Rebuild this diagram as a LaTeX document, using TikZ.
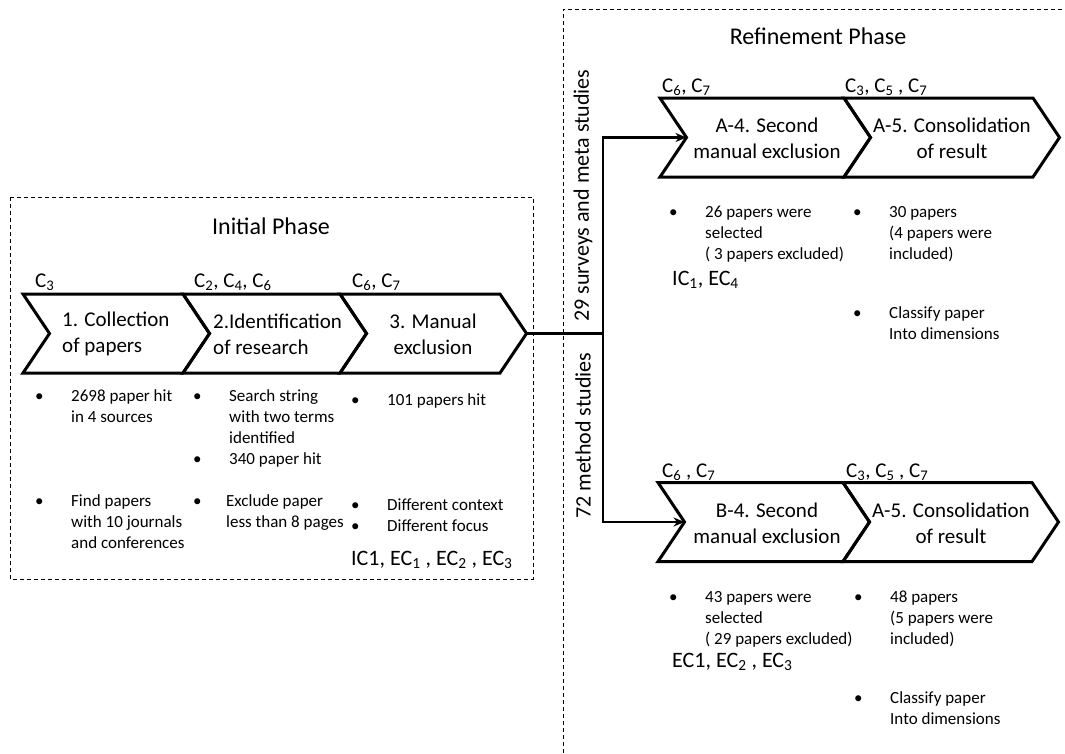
\documentclass[tikz,border=0pt]{standalone}
\usepackage{fontspec}
\setmainfont{Carlito}
\usetikzlibrary{arrows.meta}
\newcommand{\tsub}[1]{\textsubscript{#1}}
\newcommand{\blist}[2][36pt]{\begin{tabular}[t]{@{}p{#1}@{}l@{}}#2\end{tabular}}
% chevron: name, left x, right x, middle y
\newcommand{\chev}[4]{%
  \draw[chevline] (#2,#4-39.5) -- (#3,#4-39.5) -- (#3+26.5,#4) -- (#3,#4+39.5)
    -- (#2,#4+39.5) -- (#2+26.5,#4) -- cycle;
  \coordinate (#1-in) at (#2+26.5,#4);
  \coordinate (#1-out) at (#3+26.5,#4);}

\begin{document}
\begin{tikzpicture}[x=1pt,y=-1pt,>=Stealth,line join=miter,
  chevline/.style={line width=3pt},
  flow/.style={line width=2.5pt},
  phasebox/.style={line width=0.8pt,dash pattern=on 4pt off 3pt},
  phase/.style={font=\fontsize{24}{28}\selectfont},
  stage/.style={font=\fontsize{21}{26}\selectfont,inner sep=0pt},
  crit/.style={font=\fontsize{21}{25}\selectfont,inner sep=0pt,anchor=base west},
  note/.style={font=\fontsize{17}{21}\selectfont,inner sep=0pt,anchor=base west},
  excl/.style={font=\fontsize{22}{26}\selectfont,inner sep=0pt,anchor=base west},
  branch/.style={font=\fontsize{22}{26}\selectfont,rotate=90,inner sep=0pt,anchor=west}]
  \useasboundingbox (0,0) rectangle (1065,753);

  % initial phase
  \draw[phasebox] (10,197) rectangle (533,579);
  \node[phase] (initial) at (271,226) {Initial Phase};

  \chev{c1}{23}{183}{333.5}
  \chev{c2}{183}{340}{333.5}
  \chev{c3}{340}{500}{333.5}

  \node[stage,anchor=west,align=left] (s1) at (62,334) {1. Collection\\of papers};
  \node[stage,anchor=west,align=left] (s2) at (213,334) {2.Identification\\of research};
  \node[stage,align=center] (s3) at (433,334) {3. Manual\\exclusion};

  \node[crit] (k1) at (35,287) {C\tsub{3}};
  \node[crit] (k2) at (194,287) {C\tsub{2}, C\tsub{4}, C\tsub{6}};
  \node[crit] (k3) at (352,287) {C\tsub{6}, C\tsub{7}};

  \node[note] (n1a) at (35,401) {\blist{\textbullet & 2698 paper hit\\ & in 4 sources}};
  \node[note] (n1b) at (35,506) {\blist{\textbullet & Find papers\\ & with 10 journals\\ & and conferences}};
  \node[note] (n2a) at (193,401) {\blist{\textbullet & Search string\\ & with two terms\\ & identified\\ \textbullet & 340 paper hit}};
  \node[note] (n2b) at (193,506) {\blist[33pt]{\textbullet & Exclude paper\\ & less than 8 pages}};
  \node[note] (n3a) at (351,405) {\blist{\textbullet & 101 papers hit}};
  \node[note] (n3b) at (351,510) {\blist{\textbullet & Different context\\ \textbullet & Different focus}};
  \node[excl] (e3) at (351,565) {IC1, EC\tsub{1} , EC\tsub{2} , EC\tsub{3}};

  % refinement phase
  \draw[phasebox] (1062,9) -- (563,9) -- (563,753);
  \node[phase] (refine) at (818,36) {Refinement Phase};

  \chev{a4}{660}{844}{137.5}
  \chev{a5}{844}{1033}{137.5}
  \chev{b4}{658}{843}{522}
  \chev{b5}{843}{1032}{522}

  \node[stage,align=center] (sa4) at (767,138) {A-4. Second\\manual exclusion};
  \node[stage,align=center] (sa5) at (952,138) {A-5. Consolidation\\of result};
  \node[stage,align=center] (sb4) at (767,523) {B-4. Second\\manual exclusion};
  \node[stage,align=center] (sb5) at (951,523) {A-5. Consolidation\\of result};

  \node[crit] (ka4) at (662,92) {C\tsub{6}, C\tsub{7}};
  \node[crit] (ka5) at (845,92) {C\tsub{3}, C\tsub{5} , C\tsub{7}};
  \node[crit] (kb4) at (662,477) {C\tsub{6} , C\tsub{7}};
  \node[crit] (kb5) at (846,477) {C\tsub{3}, C\tsub{5} , C\tsub{7}};

  \node[note] (na4) at (669,217) {\blist{\textbullet & 26 papers were\\ & selected\\ & ( 3 papers excluded)}};
  \node[excl] (ea4) at (672,285) {IC\tsub{1}, EC\tsub{4}};
  \node[note] (na5) at (853,217) {\blist{\textbullet & 30 papers\\ & (4 papers were\\ & included)}};
  \node[note] (ca5) at (853,318) {\blist{\textbullet & Classify paper\\ & Into dimensions}};
  \node[note] (nb4) at (669,602) {\blist{\textbullet & 43 papers were\\ & selected\\ & ( 29 papers excluded)}};
  \node[excl] (eb4) at (672,667) {EC1, EC\tsub{2} , EC\tsub{3}};
  \node[note] (nb5) at (854,602) {\blist{\textbullet & 48 papers\\ & (5 papers were\\ & included)}};
  \node[note] (cb5) at (854,703) {\blist{\textbullet & Classify paper\\ & Into dimensions}};

  % split into two groups
  \node[branch] (ga) at (583,322) {29 surveys and meta studies};
  \node[branch] (gb) at (583,519) {72 method studies};
  \coordinate (split) at (603,333.5);
  \draw[flow] (c3-out) -- (split);
  \draw[flow,-{Stealth[length=11pt,width=9pt]}] (split) |- (a4-in);
  \draw[flow,-{Stealth[length=11pt,width=9pt]}] (split) |- (b4-in);
\end{tikzpicture}
\end{document}
